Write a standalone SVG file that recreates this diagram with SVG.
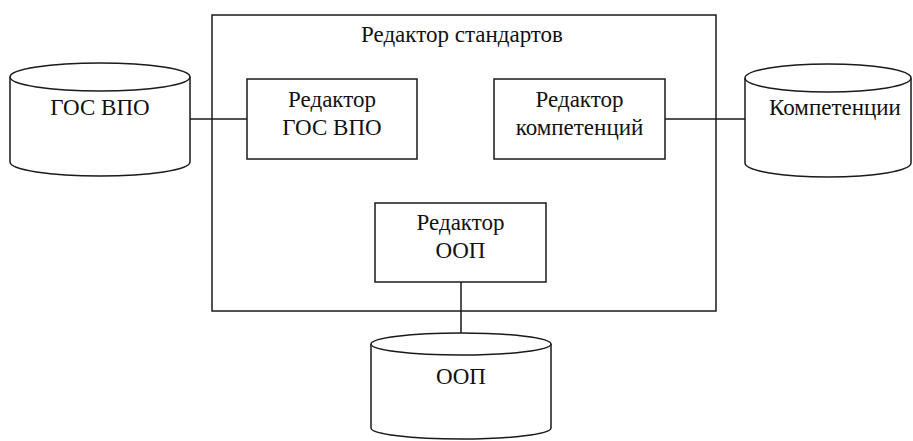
<svg xmlns="http://www.w3.org/2000/svg" width="913" height="441" viewBox="0 0 913 441">
<style>
.s{fill:#fff;stroke:#1a1a1a;stroke-width:1.5}
.l{fill:none;stroke:#1a1a1a;stroke-width:1.5}
.t{font-family:'Liberation Serif',serif;font-size:23px;fill:#111;text-anchor:middle}
</style>
<rect width="913" height="441" fill="#fff"/>
<g id="editor-standards">
<rect class="s" x="212" y="15" width="504" height="296"/>
<text class="t" x="462" y="42">Редактор стандартов</text>
</g>
<g id="connectors">
<line class="l" x1="190" y1="119" x2="247" y2="119"/>
<line class="l" x1="665" y1="119" x2="745" y2="119"/>
<line class="l" x1="461" y1="282" x2="461" y2="334"/>
</g>
<g id="editor-gos">
<rect class="s" x="247" y="79" width="170" height="80"/>
<text class="t" x="332" y="107">Редактор</text>
<text class="t" x="332" y="135">ГОС ВПО</text>
</g>
<g id="editor-comp">
<rect class="s" x="494" y="79" width="171" height="80"/>
<text class="t" x="579.5" y="107">Редактор</text>
<text class="t" x="579.5" y="135">компетенций</text>
</g>
<g id="editor-oop">
<rect class="s" x="375" y="203" width="171" height="79"/>
<text class="t" x="460.5" y="230">Редактор</text>
<text class="t" x="460.5" y="258">ООП</text>
</g>
<g id="db-gos">
<path class="s" d="M10,77 L10,162 A90,14 0 0 0 190,162 L190,77"/>
<ellipse class="s" cx="100" cy="77" rx="90" ry="14"/>
<text class="t" x="100" y="115">ГОС ВПО</text>
</g>
<g id="db-comp">
<path class="s" d="M745,78 L745,163 A83,14 0 0 0 911,163 L911,78"/>
<ellipse class="s" cx="828" cy="78" rx="83" ry="14"/>
<text class="t" x="835" y="115">Компетенции</text>
</g>
<g id="db-oop">
<path class="s" d="M371,344 L371,428 A90,11 0 0 0 551,428 L551,344"/>
<ellipse class="s" cx="461" cy="344" rx="90" ry="11"/>
<text class="t" x="461" y="384">ООП</text>
</g>
</svg>
